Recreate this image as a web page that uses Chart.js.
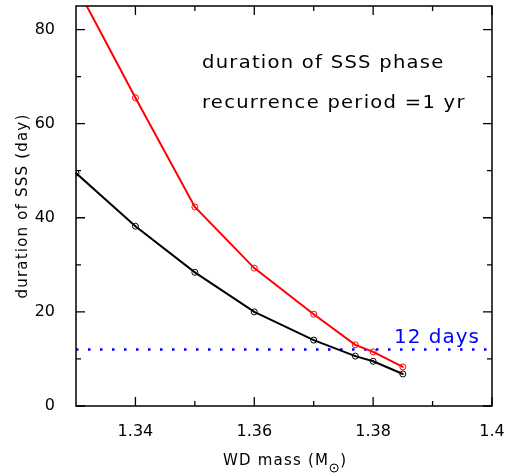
<!DOCTYPE html>
<html>
<head>
<meta charset="utf-8">
<script src="https://cdn.jsdelivr.net/npm/chart.js@4"></script>
<style>
  html, body { margin: 0; padding: 0; background: #fff; }
  #wrap { width: 508px; height: 473px; }
</style>
</head>
<body>
<div id="wrap"><canvas id="myChart"></canvas></div>
<script>
// values
const mass = [1.33, 1.34, 1.35, 1.36, 1.37, 1.377, 1.38, 1.385];
const blackDays = [49.5, 38.2, 28.4, 20.0, 14.0, 10.6, 9.5, 6.8];
const redDays = [89.3, 65.5, 42.3, 29.3, 19.5, 13.0, 11.5, 8.3];
const limitDays = 12;
const xRange = [1.33, 1.40];
const yRange = [0, 85];
const xMajor = [1.34, 1.36, 1.38, 1.40];
const xMinor = [1.35, 1.37, 1.39];
const yMajor = [0, 20, 40, 60, 80];
const yMinor = [10, 30, 50, 70];
const noteLines = ['duration of SSS phase', 'recurrence period =1 yr'];
const limitLabel = '12 days';

const FONT = '"DejaVu Sans", sans-serif';

const pts = (ys) => mass.map((m, i) => ({x: m, y: ys[i]}));

const noPad = (s) => {
    s.paddingTop = 0; s.paddingBottom = 0;
    s.paddingLeft = 0; s.paddingRight = 0;
};

// text drawn a bit wider, like the plotting font of the original
function wideText(ctx, str, x, y, stretch) {
    ctx.save();
    ctx.translate(x, y);
    ctx.scale(stretch, 1);
    ctx.fillText(str, 0, 0);
    ctx.restore();
}

const frame = {
    id: 'frame',
    afterDatasetsDraw(chart) {
        const {ctx, chartArea: a, scales: {x, y}} = chart;
        ctx.save();
        // center dots in markers
        [0, 1].forEach(d => {
            const meta = chart.getDatasetMeta(d);
            ctx.fillStyle = chart.data.datasets[d].borderColor;
            meta.data.forEach(p => {
                if (p.y < a.top) return;
                ctx.beginPath();
                ctx.arc(p.x, p.y, 0.9, 0, Math.PI * 2);
                ctx.fill();
            });
        });
        ctx.strokeStyle = '#000';
        ctx.lineWidth = 1.5;
        ctx.strokeRect(a.left, a.top, a.right - a.left, a.bottom - a.top);
        ctx.lineWidth = 1.3;
        ctx.beginPath();
        const tx = (v, len) => {
            const px = x.getPixelForValue(v);
            ctx.moveTo(px, a.bottom); ctx.lineTo(px, a.bottom - len);
            ctx.moveTo(px, a.top); ctx.lineTo(px, a.top + len);
        };
        const ty = (v, len) => {
            const py = y.getPixelForValue(v);
            ctx.moveTo(a.left, py); ctx.lineTo(a.left + len, py);
            ctx.moveTo(a.right, py); ctx.lineTo(a.right - len, py);
        };
        xMajor.forEach(v => tx(v, 9));
        xMinor.forEach(v => tx(v, 5));
        yMajor.forEach(v => ty(v, 9));
        yMinor.forEach(v => ty(v, 5));
        ctx.stroke();

        // notes
        ctx.fillStyle = '#000';
        ctx.textBaseline = 'alphabetic';
        ctx.textAlign = 'left';
        ctx.font = '17px ' + FONT;
        ctx.letterSpacing = '1.1px';
        wideText(ctx, noteLines[0], 202, 68, 1.15);
        wideText(ctx, noteLines[1], 202, 108, 1.15);
        ctx.fillStyle = '#0000ff';
        ctx.font = '20px ' + FONT;
        ctx.letterSpacing = '1px';
        ctx.fillText(limitLabel, 394, 343);

        // axis titles
        ctx.fillStyle = '#000';
        ctx.font = '15px ' + FONT;
        ctx.letterSpacing = '1.2px';
        ctx.save();
        ctx.translate(27, 206);
        ctx.rotate(-Math.PI / 2);
        ctx.textAlign = 'center';
        ctx.fillText('duration of SSS (day)', 0, 0);
        ctx.restore();
        ctx.textAlign = 'left';
        const s1 = 'WD mass (M';
        const w1 = ctx.measureText(s1).width;
        const left = 223;
        ctx.fillText(s1, left, 465);
        // sun symbol subscript
        const sx = left + w1 + 5, sy = 468;
        ctx.lineWidth = 1;
        ctx.beginPath();
        ctx.arc(sx, sy, 4, 0, Math.PI * 2);
        ctx.stroke();
        ctx.beginPath();
        ctx.arc(sx, sy, 0.9, 0, Math.PI * 2);
        ctx.fill();
        ctx.fillText(')', sx + 6, 465);
        ctx.restore();
    }
};

new Chart(document.getElementById('myChart'), {
    type: 'line',
    data: {
        datasets: [
            {
                data: pts(redDays),
                borderColor: '#ff0000',
                borderWidth: 2,
                pointRadius: 3,
                pointBorderWidth: 1,
                pointBackgroundColor: 'rgba(0,0,0,0)',
                pointBorderColor: '#ff0000',
                tension: 0
            },
            {
                data: pts(blackDays),
                borderColor: '#000000',
                borderWidth: 2,
                pointRadius: 3,
                pointBorderWidth: 1,
                pointBackgroundColor: 'rgba(0,0,0,0)',
                pointBorderColor: '#000000',
                tension: 0
            },
            {
                data: [{x: xRange[0], y: limitDays}, {x: xRange[1], y: limitDays}],
                borderColor: '#0000ff',
                borderWidth: 2.5,
                borderDash: [2.5, 9.5],
                pointRadius: 0
            }
        ]
    },
    options: {
        responsive: true,
        maintainAspectRatio: false,
        animation: false,
        events: [],
        layout: {padding: {left: 0, right: 16, top: 6, bottom: 0}},
        plugins: {legend: {display: false}, tooltip: {enabled: false}},
        scales: {
            x: {
                type: 'linear',
                min: xRange[0],
                max: xRange[1],
                grid: {display: false},
                border: {display: false},
                afterFit: (s) => { s.height = 67; noPad(s); },
                afterBuildTicks: (s) => { s.ticks = xMajor.map(v => ({value: v})); },
                ticks: {
                    color: '#000',
                    padding: 8,
                    maxRotation: 0,
                    font: {family: FONT, size: 16},
                    callback: (v) => String(+v.toFixed(2))
                }
            },
            y: {
                min: yRange[0],
                max: yRange[1],
                grid: {display: false},
                border: {display: false},
                afterFit: (s) => { s.width = 76; noPad(s); },
                afterBuildTicks: (s) => { s.ticks = yMajor.map(v => ({value: v})); },
                ticks: {
                    color: '#000',
                    padding: 13,
                    font: {family: FONT, size: 16}
                }
            }
        }
    },
    plugins: [frame]
});
</script>
</body>
</html>
